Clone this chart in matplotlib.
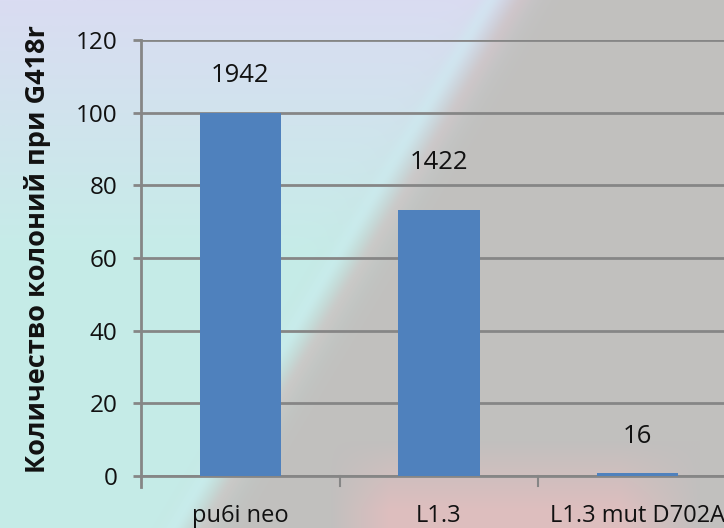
import numpy as np
import matplotlib
matplotlib.use("Agg")
import matplotlib.pyplot as plt

categories = ["pu6i neo", "L1.3", "L1.3 mut D702A"]
percent_values = [100.0, 73.2, 0.82]
count_labels = ["1942", "1422", "16"]
y_ticks = [0, 20, 40, 60, 80, 100, 120]
y_label = "Количество колоний при G418r"

W, H = 724, 528
fig = plt.figure(figsize=(W / 100, H / 100), dpi=100)

# decorative background (photo-like)
yy, xx = np.mgrid[0:H, 0:W].astype(float)
boundary = 512 - 0.6 * yy
d = (xx - boundary)
t = 1 / (1 + np.exp(-d / 12))
top = np.array([218, 220, 242]) / 255
mid = np.array([198, 236, 232]) / 255
fy = np.clip(yy / 250, 0, 1)[..., None]
left = top * (1 - fy) + mid * fy
gray = np.array([193, 192, 190]) / 255
pink = np.array([222, 190, 190]) / 255
fp = np.clip((yy - 440) / 70, 0, 1)[..., None] * np.clip((xx - 330) / 60, 0, 1)[..., None] * np.clip((700 - xx) / 80, 0, 1)[..., None]
right = gray * (1 - fp) + pink * fp
img = left * (1 - t[..., None]) + right * t[..., None]
band_c = np.exp(-((d + 22) / 10) ** 2)[..., None]
band_p = np.exp(-((d - 8) / 10) ** 2)[..., None]
img = img * (1 - 0.35 * band_c) + 0.35 * band_c * np.array([205, 245, 250]) / 255
img = img * (1 - 0.25 * band_p) + 0.25 * band_p * np.array([220, 185, 185]) / 255
bg = fig.add_axes([0, 0, 1, 1], zorder=-10)
bg.imshow(np.clip(img, 0, 1), aspect="auto", extent=[0, W, H, 0])
bg.axis("off")

x0, x1 = 141, 737
yb, yt = 476, 40
ax = fig.add_axes([x0 / W, 1 - yb / H, (x1 - x0) / W, (yb - yt) / H])
ax.patch.set_alpha(0)

xs = np.arange(len(categories))
bars = ax.bar(xs, percent_values, width=0.41, color="#4f81bd", zorder=3)
offsets = [37, 48, 37]
for b, lab, off in zip(bars, count_labels, offsets):
    ax.annotate(lab, (b.get_x() + b.get_width() / 2, b.get_height()),
                xytext=(0, off), textcoords="offset pixels",
                ha="center", va="center", fontsize=18.5, family="Open Sans", color="#111111")

ax.set_xlim(-0.5, 2.5)
ax.set_ylim(0, 120)
ax.set_yticks(y_ticks)
ax.set_yticklabels([str(v) for v in y_ticks], fontsize=17.5, family="Open Sans", color="#111111")
ax.yaxis.grid(True, color="#868686", linewidth=2, zorder=0)
ax.set_axisbelow(True)
ax.tick_params(axis="y", length=6, width=2, color="#868686", pad=11)

ax.set_xticks(xs)
ax.set_xticklabels(categories, fontsize=17, family="Open Sans", color="#111111")
ax.tick_params(axis="x", length=0, pad=20)
for xb in [0.5, 1.5]:
    ax.plot([xb, xb], [0, -2.8], color="#868686", lw=1.5, clip_on=False, zorder=2)
ax.plot([-0.5, -0.5], [0, -3.0], color="#868686", lw=2, clip_on=False)

for s in ["top", "right"]:
    ax.spines[s].set_visible(False)
ax.spines["left"].set_color("#868686")
ax.spines["left"].set_linewidth(2)
ax.spines["bottom"].set_color("#868686")
ax.spines["bottom"].set_linewidth(2)

fig.text(38 / W, 1 - 249 / H, y_label, rotation=90, ha="center", va="center",
         fontsize=19.5, fontweight="bold", family="Open Sans", color="#111111")

fig.savefig("out.png", dpi=100)
